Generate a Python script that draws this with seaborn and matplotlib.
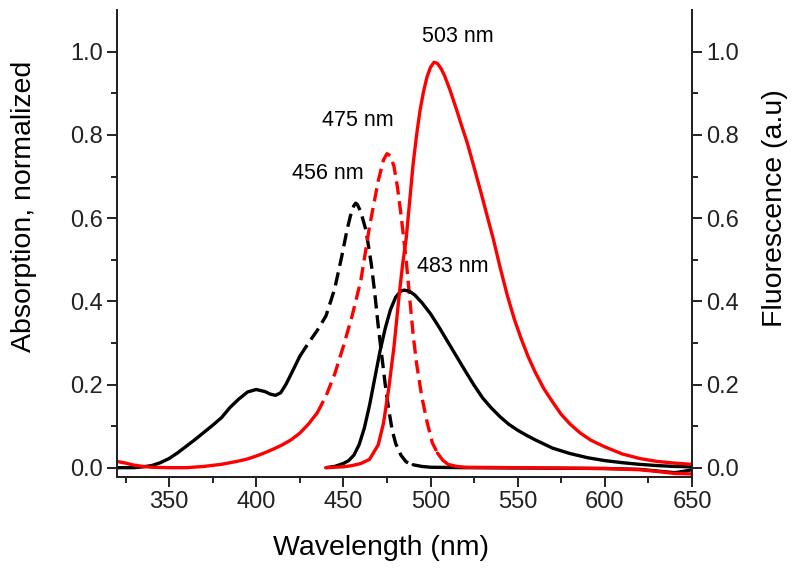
import numpy as np
import pandas as pd
import matplotlib
matplotlib.use("Agg")
import matplotlib.pyplot as plt
import seaborn as sns

sns.set_style("ticks")
plt.rcParams['font.family'] = ['Liberation Sans', 'DejaVu Sans']
plt.rcParams['text.color'] = 'black'
plt.rcParams['axes.labelcolor'] = 'black'
plt.rcParams['xtick.color'] = '#222222'
plt.rcParams['ytick.color'] = '#222222'
plt.rcParams['axes.edgecolor'] = '#222222'

# absorption, black compound
abs_black_wl = [320, 325, 330, 335, 340, 345, 350, 355, 360, 365, 370, 375, 380, 385, 390,
                395, 400, 405, 408, 411, 414, 417, 420, 425, 430, 435, 440, 445, 449, 452,
                454, 456, 457, 458, 460, 463, 466, 468, 470, 472, 474, 476, 478, 480, 483,
                486, 490, 495, 500, 520, 560, 600, 620, 630, 640, 645, 650]
abs_black = [0.0, 0.0, 0.0, 0.002, 0.005, 0.012, 0.022, 0.036, 0.052, 0.068, 0.085, 0.102, 0.12,
             0.145, 0.165, 0.182, 0.188, 0.183, 0.177, 0.174, 0.18, 0.2, 0.225, 0.268, 0.3,
             0.33, 0.365, 0.43, 0.507, 0.57, 0.605, 0.63, 0.636, 0.633, 0.615, 0.57, 0.49, 0.42,
             0.34, 0.27, 0.2, 0.14, 0.09, 0.058, 0.03, 0.014, 0.007, 0.003, 0.001, 0.0, -0.001,
             -0.002, -0.004, -0.008, -0.012, -0.009, -0.005]

# absorption, red compound
abs_red_wl = [320, 325, 330, 335, 340, 350, 360, 370, 380, 385, 390, 395, 400, 405, 410, 415,
              420, 425, 430, 435, 440, 445, 450, 455, 460, 465, 470, 473, 475, 477, 479, 481,
              483, 486, 488, 490, 492, 495, 498, 501, 504, 507, 510, 515, 520, 550, 600, 620,
              630, 640, 650]
abs_red = [0.015, 0.011, 0.006, 0.003, 0.001, 0.0, 0.0, 0.003, 0.008, 0.012, 0.016, 0.021, 0.028,
           0.036, 0.045, 0.055, 0.067, 0.083, 0.105, 0.132, 0.172, 0.225, 0.292, 0.365, 0.45,
           0.58, 0.69, 0.74, 0.755, 0.75, 0.725, 0.675, 0.61, 0.5, 0.41, 0.32, 0.25, 0.17, 0.11,
           0.06, 0.035, 0.018, 0.008, 0.003, 0.001, 0.0, -0.002, -0.005, -0.009, -0.014, -0.015]

# fluorescence, black compound
fl_black_wl = [440, 445, 450, 453, 456, 459, 462, 465, 468, 471, 474, 477, 480, 483, 485, 488,
               491, 495, 500, 505, 510, 515, 520, 525, 530, 535, 540, 545, 550, 555, 560, 565,
               570, 580, 590, 600, 610, 620, 630, 640, 650]
fl_black = [0.0, 0.003, 0.01, 0.017, 0.03, 0.055, 0.095, 0.15, 0.215, 0.28, 0.335, 0.38, 0.41,
            0.425, 0.427, 0.424, 0.415, 0.397, 0.37, 0.337, 0.302, 0.267, 0.232, 0.198, 0.167,
            0.143, 0.122, 0.104, 0.09, 0.078, 0.067, 0.057, 0.047, 0.034, 0.024, 0.017, 0.012,
            0.008, 0.005, 0.003, 0.002]

# fluorescence, red compound
fl_red_wl = [440, 450, 455, 460, 465, 470, 473, 476, 479, 482, 484, 486, 488, 490, 492, 494,
             496, 498, 500, 502, 504, 506, 508, 511, 515, 518, 521, 525, 530, 533, 536, 540,
             544, 548, 552, 556, 560, 565, 570, 575, 580, 586, 592, 600, 610, 620, 630, 640,
             650]
fl_red = [0.0, 0.002, 0.005, 0.01, 0.02, 0.055, 0.107, 0.19, 0.29, 0.415, 0.49, 0.55, 0.64, 0.73,
          0.8, 0.86, 0.905, 0.94, 0.963, 0.975, 0.972, 0.96, 0.943, 0.91, 0.86, 0.82, 0.782,
          0.722, 0.645, 0.597, 0.55, 0.48, 0.415, 0.358, 0.31, 0.267, 0.23, 0.19, 0.158, 0.128,
          0.105, 0.083, 0.066, 0.05, 0.033, 0.022, 0.015, 0.011, 0.008]

peak_labels = ["456 nm", "475 nm", "483 nm", "503 nm"]
peak_label_pos = [(441, 0.708), (458, 0.835), (513, 0.483), (515.5, 1.037)]

fig = plt.figure(figsize=(8, 5.69), dpi=100)
ax = fig.add_axes([0.146, 0.162, 0.719, 0.820])

lw = 2.4


def draw(wl, val, color, dash_from, dash_to):
    df = pd.DataFrame({'wl': wl, 'val': val})
    solid1 = df[df.wl <= dash_from]
    dashed = df[(df.wl >= dash_from) & (df.wl <= dash_to)]
    solid2 = df[df.wl >= dash_to]
    for part, ls in [(solid1, '-'), (dashed, (0, (4, 2))), (solid2, '-')]:
        if len(part) > 1:
            sns.lineplot(data=part, x='wl', y='val', ax=ax, color=color, lw=lw,
                         linestyle=ls, sort=False, estimator=None)


draw(abs_black_wl, abs_black, 'black', 425, 490)
draw(abs_red_wl, abs_red, 'red', 435, 504)
draw(fl_black_wl, fl_black, 'black', 999, 999)
draw(fl_red_wl, fl_red, 'red', 999, 999)

for txt, (x, y) in zip(peak_labels, peak_label_pos):
    ax.text(x, y, txt, ha='center', va='center', fontsize=15.5)

ax.set_xlim(320, 650)
ax.set_ylim(-0.022, 1.1)
ax.set_xticks([350, 400, 450, 500, 550, 600, 650])
ax.set_xticks(np.arange(325, 651, 25), minor=True)
ax.set_yticks([0.0, 0.2, 0.4, 0.6, 0.8, 1.0])
ax.set_yticks(np.arange(0.1, 1.05, 0.2), minor=True)
ax.set_xlabel('Wavelength (nm)', fontsize=20.5)
ax.set_ylabel('Absorption, normalized', fontsize=20.5)
ax.xaxis.set_label_coords(0.46, -0.125)
ax.yaxis.set_label_coords(-0.138, 0.58)
ax.spines['top'].set_visible(False)

ax2 = ax.twinx()
ax2.set_ylim(ax.get_ylim())
ax2.set_yticks([0.0, 0.2, 0.4, 0.6, 0.8, 1.0])
ax2.set_yticks(np.arange(0.1, 1.05, 0.2), minor=True)
ax2.set_ylabel('Fluorescence (a.u)', fontsize=20.5)
ax2.yaxis.set_label_coords(1.122, 0.576)
ax2.spines['top'].set_visible(False)

for a in (ax, ax2):
    a.tick_params(which='major', direction='out', length=7, width=1.4, labelsize=17, pad=3)
    a.tick_params(which='minor', direction='out', length=4, width=1.4)
    for s in a.spines.values():
        s.set_linewidth(1.4)
ax.set_yticklabels([f'{v:.1f}' for v in ax.get_yticks()])
ax2.set_yticklabels([f'{v:.1f}' for v in ax2.get_yticks()])

fig.savefig('out.png', dpi=100)
